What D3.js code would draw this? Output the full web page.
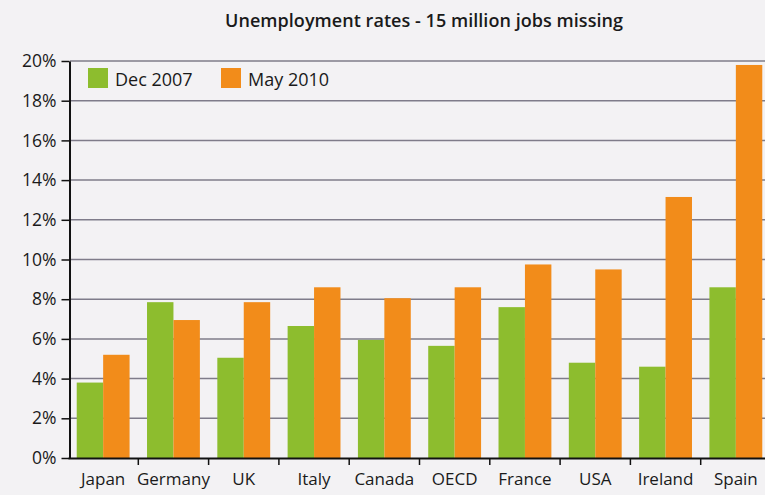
<!DOCTYPE html>
<html>
<head>
<meta charset="utf-8">
<script src="https://cdn.jsdelivr.net/npm/d3@7"></script>
<style>
  body { margin: 0; background: #f3f2f4; }
  text { font-family: "Open Sans", "Noto Sans", sans-serif; fill: #1a1a1a; }
</style>
</head>
<body>
<div id="chart"></div>
<script>
const countries = ["Japan", "Germany", "UK", "Italy", "Canada", "OECD", "France", "USA", "Ireland", "Spain"];
const series = ["Dec 2007", "May 2010"];
const dec2007 = [3.8, 7.85, 5.05, 6.65, 5.95, 5.65, 7.6, 4.8, 4.6, 8.6];
const may2010 = [5.2, 6.95, 7.85, 8.6, 8.05, 8.6, 9.75, 9.5, 13.15, 19.8];
const yTicks = [0, 2, 4, 6, 8, 10, 12, 14, 16, 18, 20];
const colors = ["#8dbd2e", "#f28c1a"];

const width = 765, height = 495;
const margin = { top: 61, right: -6, bottom: 37, left: 68 };

const svg = d3.select("#chart")
  .append("svg")
  .attr("width", width)
  .attr("height", height);

svg.append("rect").attr("width", width).attr("height", height).attr("fill", "#f3f2f4");

// scales
const x = d3.scaleBand().domain(countries).range([margin.left, width - margin.right]).paddingInner(0);
const x1 = d3.scaleBand().domain(series).range([0, x.bandwidth()]).paddingInner(0).paddingOuter(0.33);
const y = d3.scaleLinear().domain([0, 20]).range([height - margin.bottom, margin.top]);

// title
svg.append("text")
  .attr("x", 424)
  .attr("y", 27)
  .attr("text-anchor", "middle")
  .style("font-size", "18px")
  .style("font-weight", 600)
  .attr("textLength", 398)
  .text("Unemployment rates - 15 million jobs missing");

// gridlines
svg.append("g")
  .selectAll("line")
  .data(yTicks.filter(d => d > 0))
  .join("line")
  .attr("x1", margin.left + 2)
  .attr("x2", width)
  .attr("y1", d => y(d))
  .attr("y2", d => y(d))
  .attr("stroke", "#7f7c8a")
  .attr("stroke-width", 1.5);

// bars
const data = countries.map((c, i) => ({ country: c, values: [dec2007[i], may2010[i]] }));
svg.append("g")
  .selectAll("g")
  .data(data)
  .join("g")
  .attr("transform", d => `translate(${x(d.country)},0)`)
  .selectAll("rect")
  .data(d => d.values.map((v, j) => ({ key: series[j], value: v, j: j })))
  .join("rect")
  .attr("x", d => x1(d.key))
  .attr("y", d => y(d.value))
  .attr("width", x1.bandwidth())
  .attr("height", d => y(0) - y(d.value))
  .attr("fill", d => colors[d.j]);

// y axis
const yAxis = svg.append("g")
  .attr("transform", `translate(${margin.left + 1.5},0)`)
  .call(d3.axisLeft(y).tickValues(yTicks).tickFormat(d => d + "%").tickSize(8).tickSizeOuter(0));
yAxis.select(".domain").attr("stroke", "#111").attr("stroke-width", 2);
yAxis.selectAll(".tick line").attr("stroke", "#111").attr("stroke-width", 1.5);
yAxis.selectAll(".tick text")
  .attr("x", -13)
  .style("font-size", "17.5px")
  .style("font-family", "'Open Sans', sans-serif")
  .attr("fill", "#1a1a1a");

// x axis
const xAxis = svg.append("g")
  .attr("transform", `translate(0,${y(0)})`)
  .call(d3.axisBottom(x).tickSize(0).tickSizeOuter(0));
xAxis.select(".domain").attr("stroke", "#111").attr("stroke-width", 2);
xAxis.selectAll(".tick text")
  .attr("y", 15)
  .style("font-size", "17px")
  .style("font-family", "'Open Sans', sans-serif")
  .attr("fill", "#1a1a1a");

// separators between categories
svg.append("g")
  .selectAll("line")
  .data(countries.slice(1))
  .join("line")
  .attr("x1", d => x(d))
  .attr("x2", d => x(d))
  .attr("y1", y(0))
  .attr("y2", y(0) + 7)
  .attr("stroke", "#111")
  .attr("stroke-width", 1.5);

// legend
const legend = svg.append("g");
const legendX = [88, 221];
series.forEach((s, i) => {
  legend.append("rect")
    .attr("x", legendX[i])
    .attr("y", 68)
    .attr("width", 20)
    .attr("height", 20)
    .attr("fill", colors[i]);
  legend.append("text")
    .attr("x", legendX[i] + 27)
    .attr("y", 86)
    .style("font-size", "18px")
    .text(s);
});
</script>
</body>
</html>
